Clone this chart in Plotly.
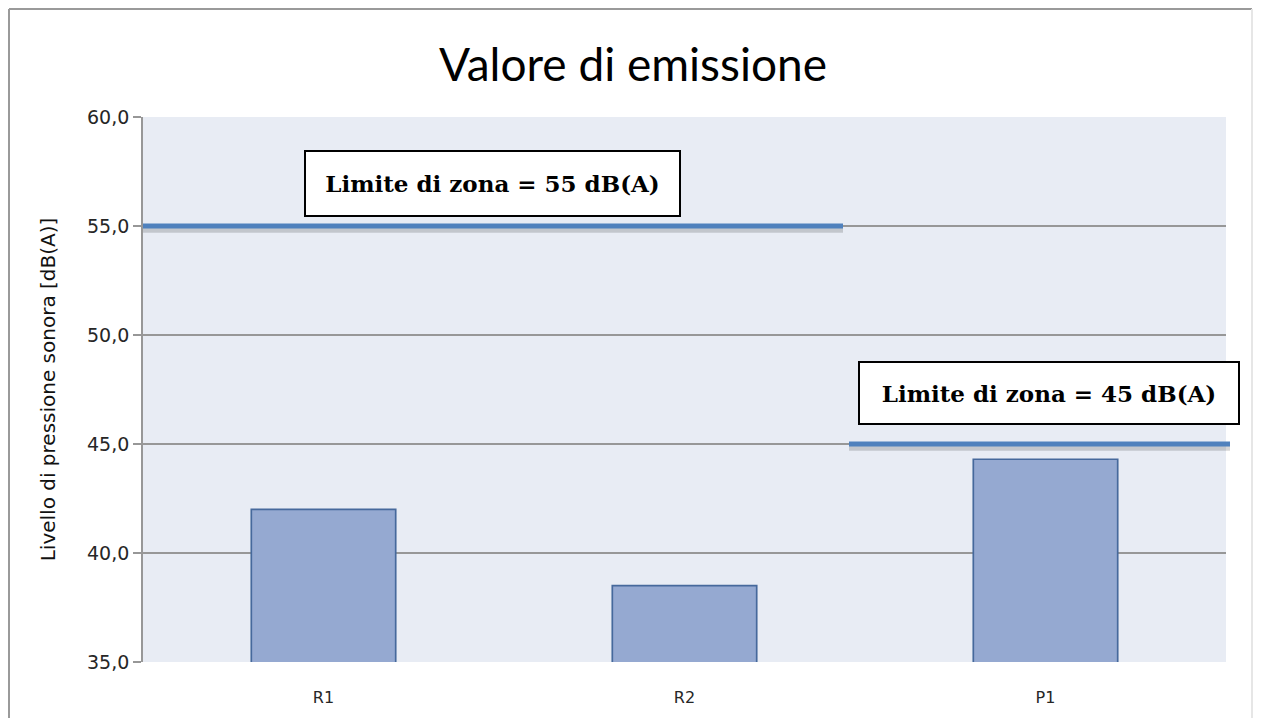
import plotly.graph_objects as go

# ---- data ----
categories = ["R1", "R2", "P1"]
values = [42.0, 38.5, 44.3]
limit_values = [55, 45]
limit_labels = ["Limite di zona = 55 dB(A)", "Limite di zona = 45 dB(A)"]
y_ticks = [35, 40, 45, 50, 55, 60]
title_text = "Valore di emissione"
y_title = "Livello di pressione sonora [dB(A)]"

# page body has an 8px margin on every side; work in screen pixels and convert
OFF = 8
W, H = 1261 - 2 * OFF, 726 - 2 * OFF
PL, PR, PT, PB = 143, 1226, 117, 662          # plot area in screen pixels
ML, MR, MT, MB = PL - OFF, W - (PR - OFF), PT - OFF, H - (PB - OFF)
PW = PR - PL
PH = PB - PT


def px_x(s):
    return (s - PL) / PW


def px_y(s):
    return (PB - s) / PH


fig = go.Figure()
fig.add_trace(go.Bar(
    x=categories, y=values,
    width=0.4,
    marker=dict(color="#95A9D1", line=dict(color="#46699C", width=1.7)),
    hoverinfo="x+y",
))

# limit lines (shadow + line), horizontal extents in paper units
line_spans = [(px_x(143), px_x(843)), (px_x(849), px_x(1230))]
shapes = []
for lim, (a, b) in zip(limit_values, line_spans):
    shapes.append(dict(type="line", xref="paper", yref="y", x0=a, x1=b,
                       y0=lim - 0.17, y1=lim - 0.17,
                       line=dict(color="rgba(0,0,0,0.16)", width=6), layer="above"))
    shapes.append(dict(type="line", xref="paper", yref="y", x0=a, x1=b,
                       y0=lim, y1=lim,
                       line=dict(color="#4F81BD", width=5), layer="above"))

# outer chart border (top, left strong; right faint)
bl, bt, br, bb = px_x(9), px_y(9), px_x(1252), px_y(740)
for x0, y0, x1, y1, col in [(bl, bt, br, bt, "#9A9A9A"),
                            (bl, bt, bl, bb, "#9A9A9A"),
                            (br, bt, br, bb, "#E6E6E6")]:
    shapes.append(dict(type="line", xref="paper", yref="paper",
                       x0=x0, y0=y0, x1=x1, y1=y1,
                       line=dict(color=col, width=2), layer="above"))

box_specs = [
    dict(cx=492, cy=183, w=371, h=61),
    dict(cx=1049, cy=393, w=376, h=58),
]
annotations = []
for txt, bs in zip(limit_labels, box_specs):
    annotations.append(dict(
        text="<b>" + txt + "</b>", xref="paper", yref="paper",
        x=px_x(bs["cx"]), y=px_y(bs["cy"]), xanchor="center", yanchor="middle",
        showarrow=False, width=bs["w"], height=bs["h"], align="center",
        bgcolor="white", bordercolor="black", borderwidth=2, borderpad=1,
        font=dict(family="DejaVu Serif", size=23, color="black"),
    ))

fig.update_layout(
    width=W, height=H,
    margin=dict(l=ML, r=MR, t=MT, b=MB),
    paper_bgcolor="white",
    plot_bgcolor="#E8ECF4",
    separators=",.",
    showlegend=False,
    title=dict(text=title_text, x=(633 - OFF) / W, xanchor="center",
               y=1 - (65 - OFF) / H, yanchor="middle", yref="container",
               font=dict(family="Lato", size=46, color="black")),
    shapes=shapes,
    annotations=annotations,
    bargap=0.6,
)
fig.update_xaxes(
    type="category", range=[-0.5, 2.5],
    showgrid=False, showline=False, ticks="",
    tickfont=dict(family="DejaVu Sans", size=16, color="#262626"),
    ticklabelstandoff=24,
)
fig.update_yaxes(
    range=[35, 60], tickvals=y_ticks, tickformat=".1f",
    showgrid=True, gridcolor="#979797", gridwidth=1.8,
    showline=True, linecolor="#979797", linewidth=1.8,
    ticks="outside", ticklen=8, tickcolor="#979797", tickwidth=1.8,
    zeroline=False,
    tickfont=dict(family="DejaVu Sans", size=19, color="#262626"),
    title=dict(text=y_title, standoff=26,
               font=dict(family="DejaVu Sans", size=20, color="#111111")),
)

fig.write_html("out.html")
